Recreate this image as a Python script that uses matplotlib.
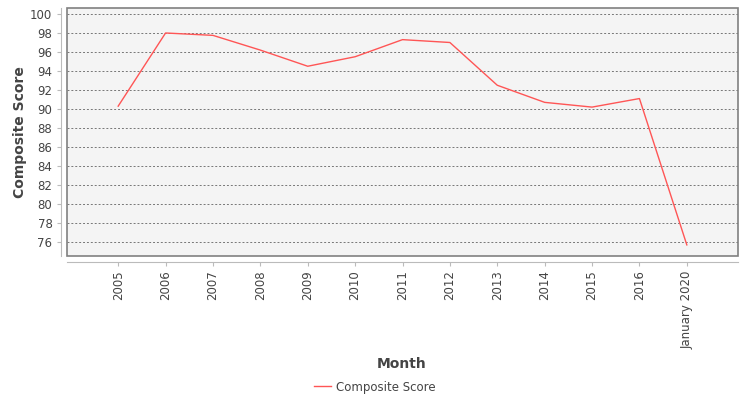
import matplotlib.pyplot as plt
from matplotlib.patches import Rectangle

months = ['2005', '2006', '2007', '2008', '2009', '2010', '2011', '2012',
          '2013', '2014', '2015', '2016', 'January 2020']
scores = [90.3, 98.0, 97.75, 96.2, 94.5, 95.5, 97.3, 97.0,
          92.5, 90.7, 90.2, 91.1, 75.7]
y_ticks = list(range(76, 101, 2))

fig = plt.figure(figsize=(7.5, 4), dpi=100)
ax = fig.add_axes([67 / 750, 144 / 400, 671 / 750, 248 / 400])
ax.set_facecolor('#f4f4f4')

x = list(range(len(months)))
line, = ax.plot(x, scores, color='#ff5555', linewidth=1, label='Composite Score')

ax.set_xlim(-1.08, len(months) - 1 + 1.08)
ax.set_ylim(74.53, 100.63)
ax.set_yticks(y_ticks)
ax.set_xticks(x)
ax.set_xticklabels(months)

ax.grid(axis='y', color='#777777', linestyle=(0, (2, 2)), linewidth=0.7)
ax.set_axisbelow(True)

for side in ['top', 'right']:
    ax.spines[side].set_visible(False)
for side in ['left', 'bottom']:
    ax.spines[side].set_position(('outward', 4))
    ax.spines[side].set_color('#bbbbbb')
ax.add_patch(Rectangle((0, 0), 1, 1, transform=ax.transAxes, fill=False,
                       edgecolor='#808080', linewidth=1.2, clip_on=False, zorder=5))

ax.tick_params(axis='both', colors='#bbbbbb', labelcolor='#444444',
               labelsize=8.5, length=3)
ax.tick_params(axis='x', labelrotation=90)

fig.text(20 / 750, 1 - 132 / 400, 'Composite Score', rotation=90, ha='center',
         va='center', fontsize=10, fontweight='bold', color='#444444')
fig.text(402 / 750, 1 - 364 / 400, 'Month', ha='center', va='center',
         fontsize=10, fontweight='bold', color='#444444')
fig.legend(handles=[line], loc='center', bbox_to_anchor=(375 / 750, 1 - 387 / 400),
           frameon=False, fontsize=8.5, handlelength=1.4, handletextpad=0.5,
           labelcolor='#444444')

fig.savefig('out.png', dpi=100)
